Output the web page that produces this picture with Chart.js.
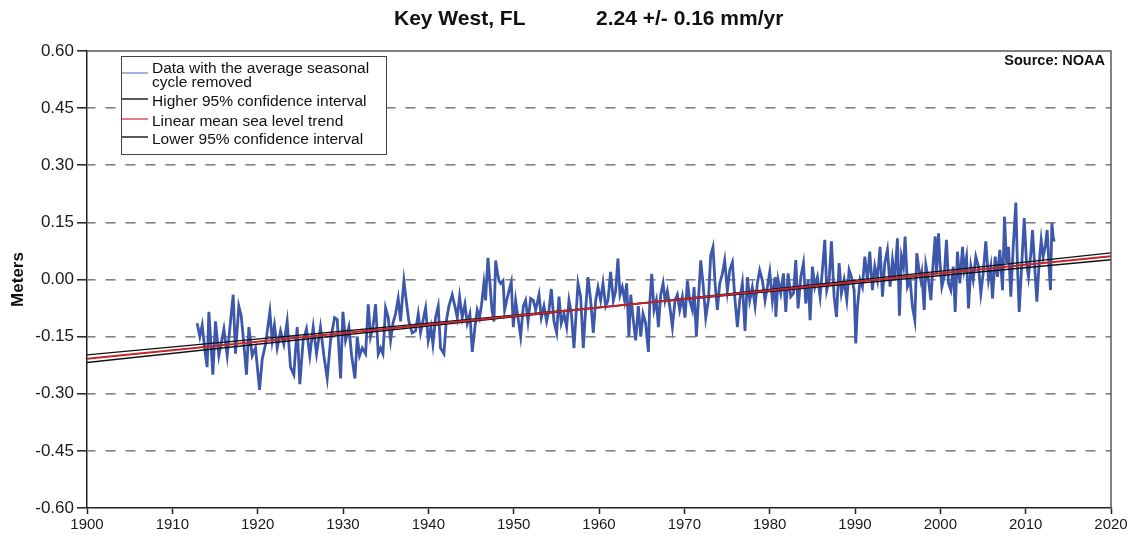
<!DOCTYPE html>
<html>
<head>
<meta charset="utf-8">
<title>Key West, FL sea level trend</title>
<script src="https://cdn.jsdelivr.net/npm/chart.js@4"></script>
<style>
  html, body { margin: 0; padding: 0; background: #fff; }
  canvas { display: block; }
</style>
</head>
<body>
<canvas id="seaLevel" width="1133" height="535"></canvas>
<script>
// monthly mean sea level, seasonal cycle removed
const years = [
    1912.91, 1913.22, 1913.50, 1913.89, 1914.08, 1914.28, 1914.75, 1915.06, 1915.45, 1916.04, 1916.43, 1916.82,
    1917.13, 1917.40, 1917.79, 1918.07, 1918.38, 1918.69, 1918.97, 1919.36, 1919.75, 1920.22, 1920.53, 1920.92,
    1921.43, 1921.70, 1921.97, 1922.29, 1922.68, 1923.07, 1923.46, 1923.85, 1924.24, 1924.63, 1924.94, 1925.33,
    1925.72, 1926.11, 1926.51, 1926.90, 1927.36, 1927.76, 1928.15, 1928.54, 1929.01, 1929.32,
    1929.72, 1929.99, 1930.30, 1930.69, 1931.01, 1931.40, 1931.67, 1931.94, 1932.26, 1932.65, 1932.96, 1933.23,
    1933.51, 1933.82, 1934.13, 1934.40, 1934.68, 1934.99, 1935.30, 1935.58, 1935.85, 1936.16, 1936.47, 1936.75,
    1936.94, 1937.14, 1937.41, 1937.72, 1938.11, 1938.50, 1938.82, 1939.09, 1939.36, 1939.68, 1939.99, 1940.30,
    1940.54, 1940.85, 1941.16, 1941.43, 1941.83, 1942.10, 1942.41, 1942.80, 1943.11, 1943.39, 1943.66, 1943.97,
    1944.29, 1944.56, 1944.87, 1945.15, 1945.46, 1945.73, 1946.00, 1946.24, 1946.51, 1946.71,
    1946.83, 1946.99, 1947.22, 1947.46, 1947.69, 1947.89, 1948.08, 1948.28, 1948.47, 1948.75, 1948.94, 1949.18,
    1949.45, 1949.72, 1949.96, 1950.23, 1950.51, 1950.82, 1951.13, 1951.40, 1951.68, 1951.99, 1952.30, 1952.58,
    1952.97, 1953.24, 1953.55, 1953.86, 1954.14, 1954.41, 1954.72, 1955.04, 1955.31, 1955.58, 1955.90, 1956.21,
    1956.48, 1956.76, 1957.07, 1957.34, 1957.54, 1957.85, 1958.16, 1958.43, 1958.71, 1959.02, 1959.33, 1959.61,
    1959.88, 1960.19, 1960.47, 1960.78, 1961.05, 1961.36, 1961.68, 1961.95, 1962.22, 1962.46, 1962.73, 1963.00,
    1963.24, 1963.51,
    1963.72, 1963.99, 1964.30, 1964.61, 1964.89, 1965.16, 1965.47, 1965.79, 1965.94, 1966.18, 1966.45, 1966.72,
    1966.96, 1967.23, 1967.51, 1967.74, 1968.01, 1968.29, 1968.60, 1968.91, 1969.18, 1969.46, 1969.77, 1970.08,
    1970.36, 1970.63, 1970.94, 1971.14, 1971.41, 1971.65, 1971.92, 1972.19, 1972.51, 1972.82, 1973.09, 1973.36,
    1973.60, 1973.87, 1974.15, 1974.46, 1974.73, 1975.04, 1975.32, 1975.63, 1975.94, 1976.22, 1976.49, 1976.80,
    1977.11, 1977.39, 1977.66, 1977.97, 1978.29, 1978.56, 1978.83, 1979.15, 1979.46, 1979.73, 1980.01, 1980.32,
    1980.63,
    1980.72, 1980.99, 1981.30, 1981.61, 1981.89, 1982.16, 1982.47, 1982.79, 1983.06, 1983.33, 1983.65, 1983.96,
    1984.23, 1984.51, 1984.74, 1985.01, 1985.29, 1985.60, 1985.91, 1986.18, 1986.46, 1986.69, 1986.97, 1987.24,
    1987.55, 1987.83, 1988.14, 1988.41, 1988.72, 1989.04, 1989.31, 1989.58, 1989.90, 1990.09, 1990.29, 1990.60,
    1990.87, 1991.15, 1991.46, 1991.73, 1992.04, 1992.32, 1992.63, 1992.94, 1993.22, 1993.49, 1993.80, 1994.11,
    1994.39, 1994.66, 1994.97, 1995.21, 1995.44, 1995.68, 1995.87, 1996.15, 1996.46, 1996.73, 1997.01, 1997.24,
    1997.51, 1997.71,
    1997.83, 1998.11, 1998.30, 1998.61, 1998.89, 1999.16, 1999.40, 1999.55, 1999.79, 1999.94, 2000.18, 2000.45,
    2000.72, 2000.96, 2001.23, 2001.51, 2001.74, 2002.01, 2002.29, 2002.60, 2002.79, 2003.07, 2003.30, 2003.58,
    2003.85, 2004.16, 2004.47, 2004.75, 2005.02, 2005.33, 2005.65, 2005.92, 2006.11, 2006.43, 2006.70, 2006.97,
    2007.29, 2007.52, 2007.76, 2007.99, 2008.26, 2008.54, 2008.85, 2009.04, 2009.24, 2009.55, 2009.83, 2010.10,
    2010.33, 2010.61, 2010.80, 2011.11, 2011.31, 2011.58, 2011.82, 2012.05, 2012.29, 2012.52, 2012.76, 2012.91,
    2013.07, 2013.22, 2013.34
];

const meters = [
    -0.115, -0.15, -0.12, -0.20, -0.23, -0.085, -0.25, -0.11, -0.20, -0.13, -0.20, -0.11,
    -0.04, -0.195, -0.07, -0.095, -0.17, -0.25, -0.125, -0.20, -0.18, -0.29, -0.21, -0.17,
    -0.085, -0.16, -0.12, -0.18, -0.135, -0.17, -0.11, -0.23, -0.25, -0.125, -0.275, -0.16,
    -0.13, -0.20, -0.125, -0.195, -0.125, -0.20, -0.26, -0.16, -0.10, -0.105,
    -0.26, -0.085, -0.16, -0.125, -0.20, -0.26, -0.15, -0.20, -0.18, -0.195, -0.065, -0.15,
    -0.125, -0.065, -0.195, -0.18, -0.195, -0.075, -0.10, -0.16, -0.115, -0.09, -0.05, -0.11,
    -0.055, -0.003, -0.055, -0.11, -0.14, -0.135, -0.09, -0.14, -0.11, -0.075, -0.16, -0.125,
    -0.17, -0.10, -0.07, -0.18, -0.195, -0.11, -0.07, -0.04, -0.07, -0.10, -0.045, -0.10,
    -0.065, -0.115, -0.09, -0.19, -0.125, -0.08, -0.10, -0.065, -0.01, -0.055,
    -0.003, 0.057, -0.01, -0.08, -0.11, 0.05, 0.02, -0.003, -0.01, -0.003, -0.08, -0.055,
    -0.03, -0.007, -0.125, -0.055, -0.10, -0.15, -0.07, -0.055, -0.11, -0.05, -0.055, -0.08,
    -0.04, -0.10, -0.07, -0.11, -0.08, -0.025, -0.11, -0.14, -0.045, -0.115, -0.09, -0.125,
    -0.055, -0.09, -0.18, -0.08, -0.01, -0.045, -0.18, -0.08, 0.006, -0.055, -0.14, -0.055,
    -0.02, -0.055, -0.01, -0.07, -0.055, 0.02, -0.055, -0.03, 0.055, -0.04, -0.02, -0.055,
    -0.01, -0.15,
    -0.04, -0.10, -0.16, -0.07, -0.15, -0.09, -0.115, -0.19, -0.065, 0.015, -0.08, -0.055,
    -0.125, -0.04, -0.01, -0.055, -0.03, -0.07, -0.125, -0.055, -0.04, -0.08, -0.045, -0.10,
    -0.003, -0.055, -0.08, -0.02, -0.15, -0.055, 0.05, -0.01, -0.10, -0.055, 0.063, 0.085,
    -0.01, -0.08, -0.01, 0.015, 0.05, -0.03, 0.024, 0.045, -0.055, -0.125, -0.055, -0.01,
    -0.135, 0.006, -0.055, -0.02, -0.07, -0.01, 0.024, -0.003, -0.055, -0.02, 0.02, -0.055,
    0.006,
    -0.098, -0.001, -0.036, 0.016, -0.085, 0.016, -0.045, -0.036, 0.051, -0.076, 0.007, 0.043,
    -0.063, -0.001, -0.107, 0.034, -0.019, 0.007, -0.045, 0.025, 0.104, -0.028, -0.001, 0.10,
    -0.045, -0.098, 0.043, -0.036, -0.001, -0.054, 0.025, 0.007, -0.028, -0.168, -0.071, -0.001,
    -0.019, 0.06, -0.001, 0.073, -0.028, 0.034, -0.001, 0.086, -0.045, 0.043, 0.078, -0.019,
    0.051, -0.001, 0.108, -0.095, 0.06, 0.034, 0.113, -0.019, -0.001, -0.071, -0.107, 0.069,
    0.025, -0.001,
    0.016, -0.080, 0.038, -0.001, -0.054, 0.043, 0.113, 0.016, 0.121, 0.051, -0.019, 0.007,
    0.104, -0.010, -0.028, 0.034, -0.085, 0.073, -0.010, 0.086, 0.025, 0.06, -0.076, 0.034,
    -0.001, 0.06, 0.034, -0.036, 0.016, 0.10, -0.001, 0.034, -0.05, 0.06, 0.007, 0.078,
    -0.028, 0.165, 0.043, 0.086, -0.045, 0.086, 0.202, 0.034, -0.085, 0.043, 0.161, 0.043,
    0.007, 0.069, 0.13, 0.016, -0.058, 0.043, 0.104, 0.06, 0.086, 0.13, 0.025, -0.028,
    0.148, 0.113, 0.10
];

// linear trend and its 95% confidence lines, at the ends of the x axis
const trendYears = [1900, 2020];
const trendMean = [-0.208, 0.061];
const trendHigh = [-0.218, 0.070];
const trendLow = [-0.198, 0.052];

const yTicks = [-0.60, -0.45, -0.30, -0.15, 0.00, 0.15, 0.30, 0.45, 0.60];
const xTicks = [1900, 1910, 1920, 1930, 1940, 1950, 1960, 1970, 1980, 1990, 2000, 2010, 2020];

const seriesLabels = [
    ['Data with the average seasonal', 'cycle removed'],
    ['Higher 95% confidence interval'],
    ['Linear mean sea level trend'],
    ['Lower 95% confidence interval']
];

const FONT = '"Liberation Sans", Arial, sans-serif';
Chart.defaults.font.family = FONT;
Chart.defaults.color = '#1a1a1a';

const toPoints = (xs, ys) => xs.map((x, i) => ({ x: x, y: ys[i] }));

// 제목, 출처, 범례, 테두리
const decorations = {
    id: 'decorations',
    afterDraw(chart) {
        const { ctx, chartArea: a } = chart;
        ctx.save();

        // top and right frame of the plot area
        ctx.strokeStyle = '#5a5a5a';
        ctx.lineWidth = 1.5;
        ctx.beginPath();
        ctx.moveTo(a.left, a.top);
        ctx.lineTo(a.right, a.top);
        ctx.lineTo(a.right, a.bottom);
        ctx.stroke();

        // title
        ctx.fillStyle = '#111';
        ctx.font = 'bold 21px ' + FONT;
        ctx.textBaseline = 'middle';
        ctx.textAlign = 'left';
        ctx.fillText('Key West, FL', 394, 19);
        ctx.fillText('2.24 +/- 0.16 mm/yr', 596, 19);

        // source
        ctx.font = 'bold 14.5px ' + FONT;
        ctx.textAlign = 'right';
        ctx.fillText('Source: NOAA', 1105, 61);

        // legend box
        ctx.fillStyle = '#fff';
        ctx.fillRect(121, 56, 265, 98);
        ctx.strokeStyle = '#444';
        ctx.lineWidth = 1;
        ctx.strokeRect(121.5, 56.5, 265, 98);

        const sampleY = [73, 99, 119, 137];
        const textY = [[69, 82.5], [102], [121.5], [140]];
        ctx.font = '15.5px ' + FONT;
        ctx.textAlign = 'left';
        chart.data.datasets.forEach((ds, i) => {
            ctx.strokeStyle = ds.legendColor;
            ctx.lineWidth = 1.5;
            ctx.beginPath();
            ctx.moveTo(122, sampleY[i]);
            ctx.lineTo(148, sampleY[i]);
            ctx.stroke();
            ctx.fillStyle = '#111';
            seriesLabels[i].forEach((line, j) => ctx.fillText(line, 152, textY[i][j]));
        });

        ctx.restore();
    }
};

new Chart(document.getElementById('seaLevel'), {
    type: 'line',
    data: {
        datasets: [
            {
                label: seriesLabels[0].join(' '),
                data: toPoints(years, meters),
                borderColor: '#3d57ab',
                legendColor: '#7f98d6',
                borderWidth: 2.8,
                pointRadius: 0,
                tension: 0,
                order: 4
            },
            {
                label: seriesLabels[1][0],
                data: toPoints(trendYears, trendHigh),
                borderColor: '#111',
                legendColor: '#222',
                borderWidth: 1.4,
                pointRadius: 0,
                order: 2
            },
            {
                label: seriesLabels[2][0],
                data: toPoints(trendYears, trendMean),
                borderColor: '#c1272d',
                legendColor: '#d9555a',
                borderWidth: 2,
                pointRadius: 0,
                order: 1
            },
            {
                label: seriesLabels[3][0],
                data: toPoints(trendYears, trendLow),
                borderColor: '#111',
                legendColor: '#222',
                borderWidth: 1.4,
                pointRadius: 0,
                order: 3
            }
        ]
    },
    options: {
        responsive: false,
        animation: false,
        devicePixelRatio: 1,
        layout: {
            padding: { top: 51, right: 22, left: 0, bottom: 0 }
        },
        plugins: {
            legend: { display: false },
            title: { display: false },
            tooltip: { enabled: false }
        },
        scales: {
            x: {
                type: 'linear',
                min: xTicks[0],
                max: xTicks[xTicks.length - 1],
                afterBuildTicks: (scale) => { scale.ticks = xTicks.map(v => ({ value: v })); },
                afterFit: (scale) => { scale.height = 27; },
                ticks: {
                    font: { size: 15 },
                    color: '#1a1a1a',
                    padding: 2,
                    maxRotation: 0,
                    callback: (v) => String(v)
                },
                grid: {
                    drawOnChartArea: false,
                    tickLength: 6,
                    tickColor: '#222',
                    tickWidth: 1.5
                },
                border: { color: '#222', width: 1.5 }
            },
            y: {
                min: yTicks[0],
                max: yTicks[yTicks.length - 1],
                afterBuildTicks: (scale) => { scale.ticks = yTicks.map(v => ({ value: v })); },
                afterFit: (scale) => { scale.width = 87; },
                ticks: {
                    font: { size: 17 },
                    color: '#1a1a1a',
                    padding: 3,
                    callback: (v) => Math.abs(v) < 1e-9 ? '0.00' : v.toFixed(2)
                },
                grid: {
                    color: (c) => (c.tick && Math.abs(Math.abs(c.tick.value) - 0.6) < 1e-9) ? 'rgba(0,0,0,0)' : '#828282',
                    lineWidth: 1.6,
                    tickLength: 10,
                    tickColor: '#222',
                    tickWidth: 1.5,
                    tickBorderDash: []
                },
                border: { color: '#222', width: 1.5, dash: [10, 10], dashOffset: 2 },
                title: {
                    display: true,
                    text: 'Meters',
                    font: { size: 17, weight: 'bold' },
                    color: '#111',
                    padding: { top: 8, bottom: 0 }
                }
            }
        }
    },
    plugins: [decorations]
});
</script>
</body>
</html>
